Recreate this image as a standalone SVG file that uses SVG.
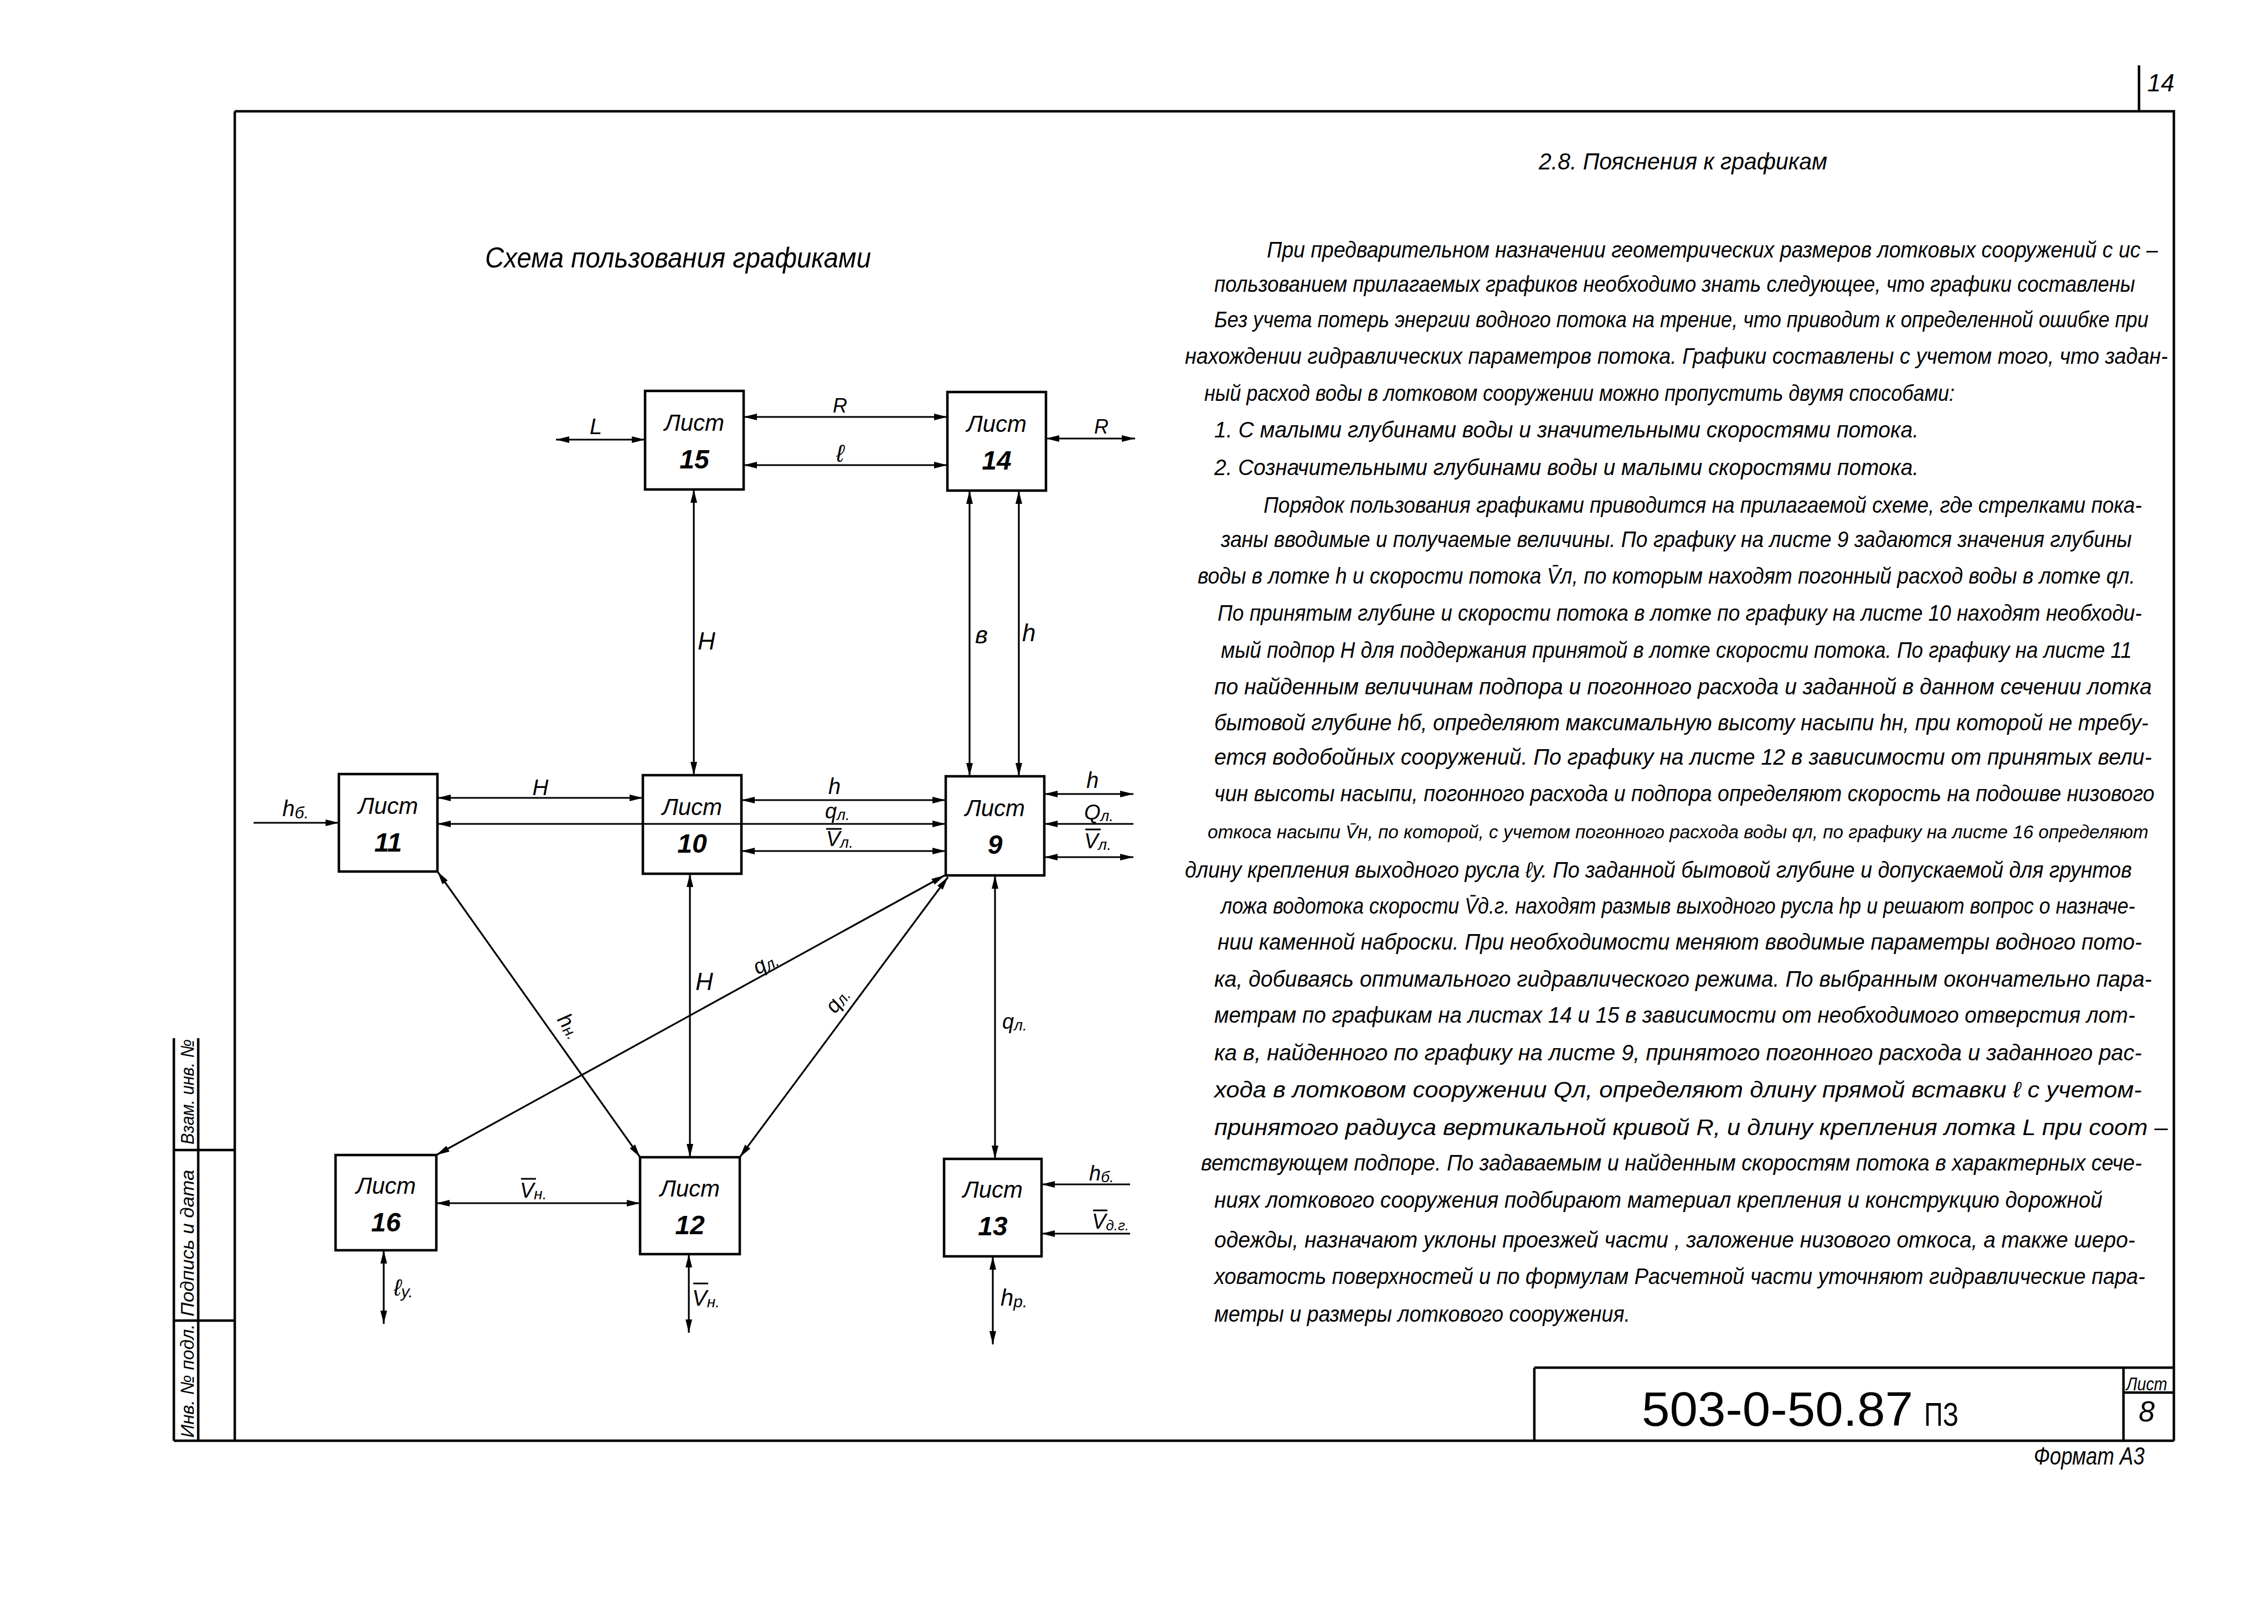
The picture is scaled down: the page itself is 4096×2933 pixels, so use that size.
<svg xmlns="http://www.w3.org/2000/svg" width="4096" height="2933" viewBox="0 0 4096 2933">
<style>
.t{font-family:"Liberation Sans","DejaVu Sans",sans-serif;font-style:italic;fill:#000}
.u{font-family:"Liberation Sans","DejaVu Sans",sans-serif;fill:#000}
.p{font-size:40px}
.lb{font-size:40px}
.nl{font-size:42px;text-anchor:middle}
.nn{font-size:48px;font-weight:bold;text-anchor:middle}
.box{fill:none;stroke:#000;stroke-width:4.5}
.fr{fill:none;stroke:#000;stroke-width:4.5}
.c{fill:none;stroke:#000;stroke-width:3.2}
.d{marker-start:url(#ah);marker-end:url(#ah)}
.e{marker-end:url(#ah)}
.s{marker-start:url(#ah)}
.ob{stroke:#000;stroke-width:3}
</style>
<defs>
<marker id="ah" viewBox="0 0 24 12" refX="24" refY="6" markerWidth="24" markerHeight="12" markerUnits="userSpaceOnUse" orient="auto-start-reverse"><path d="M0,0 L24,6 L0,12 Z" fill="#000"/></marker>
</defs>
<rect x="0" y="0" width="4096" height="2933" fill="#fff"/>

<g id="frame">
<path class="fr" d="M424,201 H3926 V2602 M424,201 V2602 M314,2602 H3926"/>
<path class="fr" d="M314,1875 V2602 M358,1875 V2602 M314,2077 H424 M314,2385 H424"/>
<path class="fr" d="M2771,2470 H3926 M2771,2470 V2602 M3835,2470 V2602 M3835,2515 H3926"/>
<path class="fr" d="M3863,118 V201"/>
<text class="t" x="3878" y="165" font-size="44">14</text>
<text class="t" font-size="34" text-anchor="middle" textLength="205" lengthAdjust="spacingAndGlyphs" transform="translate(350,2494) rotate(-90)">Инв. № подл.</text>
<text class="t" font-size="34" text-anchor="middle" textLength="265" lengthAdjust="spacingAndGlyphs" transform="translate(350,2245) rotate(-90)">Подпись и дата</text>
<text class="t" font-size="34" text-anchor="middle" textLength="190" lengthAdjust="spacingAndGlyphs" transform="translate(350,1972) rotate(-90)">Взам. инв. №</text>
<text class="u" x="2965" y="2575" font-size="88" textLength="490" lengthAdjust="spacingAndGlyphs">503-0-50.87</text>
<text class="u" x="3475" y="2575" font-size="60" textLength="62" lengthAdjust="spacingAndGlyphs">ПЗ</text>
<text class="t" x="3877" y="2511" font-size="34" text-anchor="middle" textLength="74" lengthAdjust="spacingAndGlyphs">Лист</text>
<text class="t" x="3877" y="2567" font-size="52" text-anchor="middle">8</text>
<text class="t" x="3673" y="2645" font-size="44" textLength="200" lengthAdjust="spacingAndGlyphs">Формат А3</text>
</g>

<g id="title">
<text class="t" x="876" y="483" font-size="52" textLength="697" lengthAdjust="spacingAndGlyphs">Схема пользования графиками</text>
</g>

<g id="node-15"><rect class="box" x="1165" y="706" width="178" height="178"/><text class="t nl" x="1254" y="778">Лист</text><text class="t nn" x="1254" y="846">15</text></g>
<g id="node-14"><rect class="box" x="1711" y="708" width="178" height="178"/><text class="t nl" x="1800" y="780">Лист</text><text class="t nn" x="1800" y="848">14</text></g>
<g id="node-11"><rect class="box" x="612" y="1398" width="178" height="176"/><text class="t nl" x="701" y="1470">Лист</text><text class="t nn" x="701" y="1538">11</text></g>
<g id="node-10"><rect class="box" x="1161" y="1400" width="178" height="178"/><text class="t nl" x="1250" y="1472">Лист</text><text class="t nn" x="1250" y="1540">10</text></g>
<g id="node-9"><rect class="box" x="1708" y="1402" width="178" height="179"/><text class="t nl" x="1797" y="1474">Лист</text><text class="t nn" x="1797" y="1542">9</text></g>
<g id="node-16"><rect class="box" x="606" y="2086" width="182" height="172"/><text class="t nl" x="697" y="2156">Лист</text><text class="t nn" x="697" y="2224">16</text></g>
<g id="node-12"><rect class="box" x="1156" y="2090" width="180" height="175"/><text class="t nl" x="1246" y="2161">Лист</text><text class="t nn" x="1246" y="2229">12</text></g>
<g id="node-13"><rect class="box" x="1705" y="2093" width="176" height="176"/><text class="t nl" x="1793" y="2163">Лист</text><text class="t nn" x="1793" y="2231">13</text></g>

<g id="connectors">
<path class="c d" d="M1004,794 H1165"/>
<path class="c d" d="M1343,753 H1711"/>
<path class="c d" d="M1343,840 H1711"/>
<path class="c d" d="M1889,792 H2050"/>
<path class="c d" d="M1253,884 V1400"/>
<path class="c d" d="M1751,886 V1402"/>
<path class="c d" d="M1840,886 V1402"/>
<path class="c e" d="M458,1486 H612"/>
<path class="c d" d="M790,1441 H1161"/>
<path class="c d" d="M790,1488 H1708"/>
<path class="c d" d="M1339,1445 H1708"/>
<path class="c d" d="M1339,1537 H1708"/>
<path class="c d" d="M1886,1434 H2047"/>
<path class="c s" d="M1886,1488 H2047"/>
<path class="c d" d="M1886,1548 H2047"/>
<path class="c d" d="M1246,1578 V2090"/>
<path class="c d" d="M1797,1581 V2093"/>
<path class="c d" d="M790,1574 L1156,2090"/>
<path class="c d" d="M1706,1581 L788,2086"/>
<path class="c d" d="M1712,1584 L1336,2090"/>
<path class="c d" d="M788,2173 H1156"/>
<path class="c d" d="M693,2258 V2391"/>
<path class="c d" d="M1244,2265 V2407"/>
<path class="c d" d="M1793,2269 V2428"/>
<path class="c s" d="M1881,2139 H2041"/>
<path class="c s" d="M1881,2228 H2041"/>
</g>

<g id="connector-labels">
<text class="t lb" x="1076" y="784" text-anchor="middle">L</text>
<text class="t" x="1517" y="745" font-size="36" text-anchor="middle">R</text>
<text class="t" x="1517" y="834" font-size="44" text-anchor="middle">ℓ</text>
<text class="t" x="1989" y="783" font-size="36" text-anchor="middle">R</text>
<text class="t" x="1260" y="1173" font-size="44">H</text>
<text class="t" x="1761" y="1162" font-size="44">в</text>
<text class="t" x="1846" y="1158" font-size="44">h</text>
<text class="t lb" x="510" y="1474">h<tspan font-size="30" dy="4">б.</tspan></text>
<text class="t lb" x="976" y="1436" text-anchor="middle">H</text>
<text class="t lb" x="1507" y="1434" text-anchor="middle">h</text>
<text class="t" x="1490" y="1478" font-size="38">q<tspan font-size="28" dy="3">л.</tspan></text>
<line class="ob" x1="1492" y1="1497" x2="1520" y2="1497"/>
<text class="t" x="1492" y="1528" font-size="38">V<tspan font-size="28" dy="3">л.</tspan></text>
<text class="t lb" x="1973" y="1423" text-anchor="middle">h</text>
<text class="t" x="1958" y="1480" font-size="38">Q<tspan font-size="28" dy="3">л.</tspan></text>
<line class="ob" x1="1960" y1="1498" x2="1988" y2="1498"/>
<text class="t" x="1958" y="1532" font-size="38">V<tspan font-size="28" dy="3">л.</tspan></text>
<text class="t" font-size="38" text-anchor="middle" transform="translate(1018,1860) rotate(55)">h<tspan font-size="28" dy="3">н.</tspan></text>
<text class="t" font-size="38" text-anchor="middle" transform="translate(1388,1750) rotate(-29)">q<tspan font-size="28" dy="3">л.</tspan></text>
<text class="t" font-size="38" text-anchor="middle" transform="translate(1522,1814) rotate(-54)">q<tspan font-size="28" dy="3">л.</tspan></text>
<text class="t" x="1810" y="1858" font-size="38">q<tspan font-size="28" dy="3">л.</tspan></text>
<text class="t" x="1256" y="1788" font-size="44">H</text>
<line class="ob" x1="941" y1="2129" x2="968" y2="2129"/>
<text class="t" x="939" y="2163" font-size="38">V<tspan font-size="28" dy="3">н.</tspan></text>
<text class="t" x="711" y="2340" font-size="42">ℓ<tspan font-size="30" dy="3">у.</tspan></text>
<line class="ob" x1="1252" y1="2318" x2="1279" y2="2318"/>
<text class="t" x="1250" y="2358" font-size="40">V<tspan font-size="28" dy="3">н.</tspan></text>
<text class="t" x="1807" y="2358" font-size="42">h<tspan font-size="30" dy="3">р.</tspan></text>
<text class="t" x="1967" y="2132" font-size="38">h<tspan font-size="28" dy="3">б.</tspan></text>
<line class="ob" x1="1974" y1="2186" x2="2000" y2="2186"/>
<text class="t" x="1972" y="2219" font-size="38">V<tspan font-size="26" dy="3">д.г.</tspan></text>
</g>

<g id="explanation">
<text class="t" x="2779" y="306" font-size="42" textLength="521" lengthAdjust="spacingAndGlyphs">2.8. Пояснения к графикам</text>
<text class="t p" x="2288" y="465" textLength="1609" lengthAdjust="spacingAndGlyphs">При предварительном назначении геометрических размеров лотковых сооружений с ис –</text>
<text class="t p" x="2193" y="527" textLength="1663" lengthAdjust="spacingAndGlyphs">пользованием прилагаемых графиков необходимо знать следующее, что графики составлены</text>
<text class="t p" x="2193" y="591" textLength="1687" lengthAdjust="spacingAndGlyphs">Без учета потерь энергии водного потока на трение, что приводит к определенной ошибке при</text>
<text class="t p" x="2140" y="657" textLength="1775" lengthAdjust="spacingAndGlyphs">нахождении гидравлических параметров потока. Графики составлены с учетом того, что задан-</text>
<text class="t p" x="2175" y="724" textLength="1355" lengthAdjust="spacingAndGlyphs">ный расход воды в лотковом сооружении можно пропустить двумя способами:</text>
<text class="t p" x="2193" y="790" textLength="1272" lengthAdjust="spacingAndGlyphs">1. С малыми глубинами воды и значительными скоростями потока.</text>
<text class="t p" x="2193" y="858" textLength="1272" lengthAdjust="spacingAndGlyphs">2. Созначительными глубинами воды и малыми скоростями потока.</text>
<text class="t p" x="2282" y="926" textLength="1586" lengthAdjust="spacingAndGlyphs">Порядок пользования графиками приводится на прилагаемой схеме, где стрелками пока-</text>
<text class="t p" x="2205" y="988" textLength="1645" lengthAdjust="spacingAndGlyphs">заны вводимые и получаемые величины. По графику на листе 9 задаются значения глубины</text>
<text class="t p" x="2163" y="1054" textLength="1693" lengthAdjust="spacingAndGlyphs">воды в лотке h и скорости потока V̄л, по которым находят погонный расход воды в лотке qл.</text>
<text class="t p" x="2199" y="1121" textLength="1669" lengthAdjust="spacingAndGlyphs">По принятым глубине и скорости потока в лотке по графику на листе 10 находят необходи-</text>
<text class="t p" x="2205" y="1188" textLength="1645" lengthAdjust="spacingAndGlyphs">мый подпор H для поддержания принятой в лотке скорости потока. По графику на листе 11</text>
<text class="t p" x="2193" y="1254" textLength="1693" lengthAdjust="spacingAndGlyphs">по найденным величинам подпора и погонного расхода и заданной в данном сечении лотка</text>
<text class="t p" x="2193" y="1319" textLength="1687" lengthAdjust="spacingAndGlyphs">бытовой глубине hб, определяют максимальную высоту насыпи hн, при которой не требу-</text>
<text class="t p" x="2193" y="1381" textLength="1693" lengthAdjust="spacingAndGlyphs">ется водобойных сооружений. По графику на листе 12 в зависимости от принятых вели-</text>
<text class="t p" x="2193" y="1447" textLength="1698" lengthAdjust="spacingAndGlyphs">чин высоты насыпи, погонного расхода и подпора определяют скорость на подошве низового</text>
<text class="t" x="2181" y="1514" font-size="34" textLength="1699" lengthAdjust="spacingAndGlyphs">откоса насыпи V̄н, по которой, с учетом погонного расхода воды qл, по графику на листе 16 определяют</text>
<text class="t p" x="2140" y="1585" textLength="1710" lengthAdjust="spacingAndGlyphs">длину крепления выходного русла ℓу. По заданной бытовой глубине и допускаемой для грунтов</text>
<text class="t p" x="2205" y="1650" textLength="1651" lengthAdjust="spacingAndGlyphs">ложа водотока скорости V̄д.г. находят размыв выходного русла hр и решают вопрос о назначе-</text>
<text class="t p" x="2199" y="1715" textLength="1669" lengthAdjust="spacingAndGlyphs">нии каменной наброски. При необходимости меняют вводимые параметры водного пото-</text>
<text class="t p" x="2193" y="1782" textLength="1693" lengthAdjust="spacingAndGlyphs">ка, добиваясь оптимального гидравлического режима. По выбранным окончательно пара-</text>
<text class="t p" x="2193" y="1847" textLength="1663" lengthAdjust="spacingAndGlyphs">метрам по графикам на листах 14 и 15 в зависимости от необходимого отверстия лот-</text>
<text class="t p" x="2193" y="1915" textLength="1675" lengthAdjust="spacingAndGlyphs">ка в, найденного по графику на листе 9, принятого погонного расхода и заданного рас-</text>
<text class="t p" x="2193" y="1982" textLength="1675" lengthAdjust="spacingAndGlyphs">хода в лотковом сооружении Qл, определяют длину прямой вставки ℓ с учетом-</text>
<text class="t p" x="2193" y="2050" textLength="1722" lengthAdjust="spacingAndGlyphs">принятого радиуса вертикальной кривой R, и длину крепления лотка L при соот –</text>
<text class="t p" x="2169" y="2114" textLength="1699" lengthAdjust="spacingAndGlyphs">ветствующем подпоре. По задаваемым и найденным скоростям потока в характерных сече-</text>
<text class="t p" x="2193" y="2181" textLength="1604" lengthAdjust="spacingAndGlyphs">ниях лоткового сооружения подбирают материал крепления и конструкцию дорожной</text>
<text class="t p" x="2193" y="2253" textLength="1663" lengthAdjust="spacingAndGlyphs">одежды, назначают уклоны проезжей части , заложение низового откоса, а также шеро-</text>
<text class="t p" x="2193" y="2319" textLength="1681" lengthAdjust="spacingAndGlyphs">ховатость поверхностей и по формулам Расчетной части уточняют гидравлические пара-</text>
<text class="t p" x="2193" y="2387" textLength="751" lengthAdjust="spacingAndGlyphs">метры и размеры лоткового сооружения.</text>
</g>
</svg>
